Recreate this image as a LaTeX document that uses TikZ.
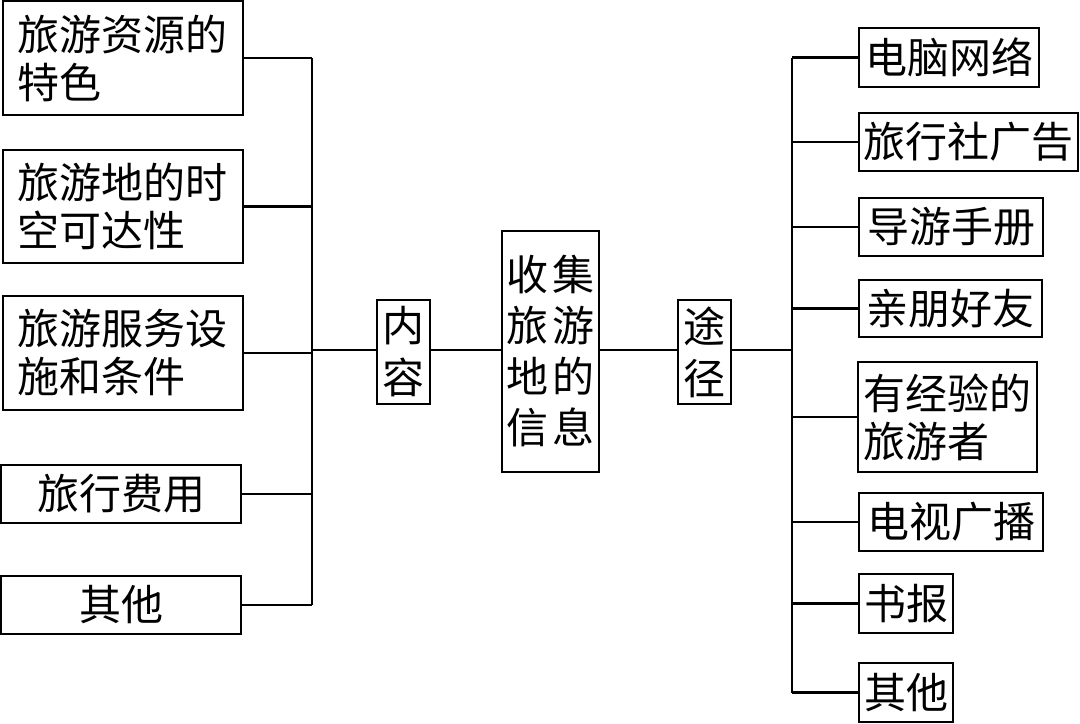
\documentclass[tikz,border=0pt]{standalone}
\usepackage{fontspec}
\newfontfamily\cjk{Noto Sans CJK SC}
\begin{document}
\begin{tikzpicture}[x=0.5pt,y=-0.5pt,
  box/.style={draw, line width=1.2pt, inner sep=0pt, align=left,
    font=\cjk\fontsize{21pt}{24pt}\selectfont},
  sz/.style 2 args={minimum width=#1*0.5pt, minimum height=#2*0.5pt},
  conn/.style={line width=1.2pt}]
\useasboundingbox (0,0) rectangle (1080,723);
% left boxes
\node[box, sz={240}{114}] (l1) at (123,58) {旅游资源的\\特色};
\node[box, sz={240}{113}] (l2) at (123,206.5) {旅游地的时\\空可达性};
\node[box, sz={240}{114}] (l3) at (123,353) {旅游服务设\\施和条件};
\node[box, sz={240}{58}] (l4) at (121,494) {旅行费用};
\node[box, sz={240}{58}] (l5) at (121,605) {其他};
% middle
\node[box, sz={53}{104}, align=center, font=\cjk\fontsize{21pt}{26pt}\selectfont] (nr) at (403.5,352) {内\\容};
\node[box, sz={97}{241}, align=center, font=\cjk\fontsize{21pt}{25.5pt}\selectfont] (main) at (550.5,351.5)
  {收\hspace{2pt}集\\旅\hspace{2pt}游\\地\hspace{2pt}的\\信\hspace{2pt}息};
\node[box, sz={53}{104}, align=center, font=\cjk\fontsize{21pt}{26pt}\selectfont] (tj) at (704.5,352) {途\\径};
% right boxes
\node[box, sz={180}{59}] (r1) at (949,57.5) {电脑网络};
\node[box, sz={219}{58}] (r2) at (968.5,142) {旅行社广告};
\node[box, sz={184}{58}] (r3) at (951,227) {导游手册};
\node[box, sz={183}{57}] (r4) at (950.5,308.5) {亲朋好友};
\node[box, sz={179}{110}] (r5) at (947.5,417) {有经验的\\旅游者};
\node[box, sz={184}{58}] (r6) at (951,522) {电视广播};
\node[box, sz={94}{59}] (r7) at (906,603.5) {书报};
\node[box, sz={94}{59}] (r8) at (906,692.5) {其他};
% trunks
\coordinate (tl) at (312,350);
\coordinate (tr) at (792,350);
\draw[conn] (l1.east -| tl) -- (l5.east -| tl);
\foreach \n in {l1,l2,l3,l4,l5} \draw[conn] (\n.east) -- (\n.east -| tl);
\draw[conn] (r1.west -| tr) -- (r8.west -| tr);
\foreach \n in {r1,r2,r3,r4,r5,r6,r7,r8} \draw[conn] (\n.west) -- (\n.west -| tr);
% spine
\draw[conn] (tl) -- (tl -| nr.west);
\draw[conn] (tl -| nr.east) -- (tl -| main.west);
\draw[conn] (tl -| main.east) -- (tl -| tj.west);
\draw[conn] (tl -| tj.east) -- (tr);
\end{tikzpicture}
\end{document}
